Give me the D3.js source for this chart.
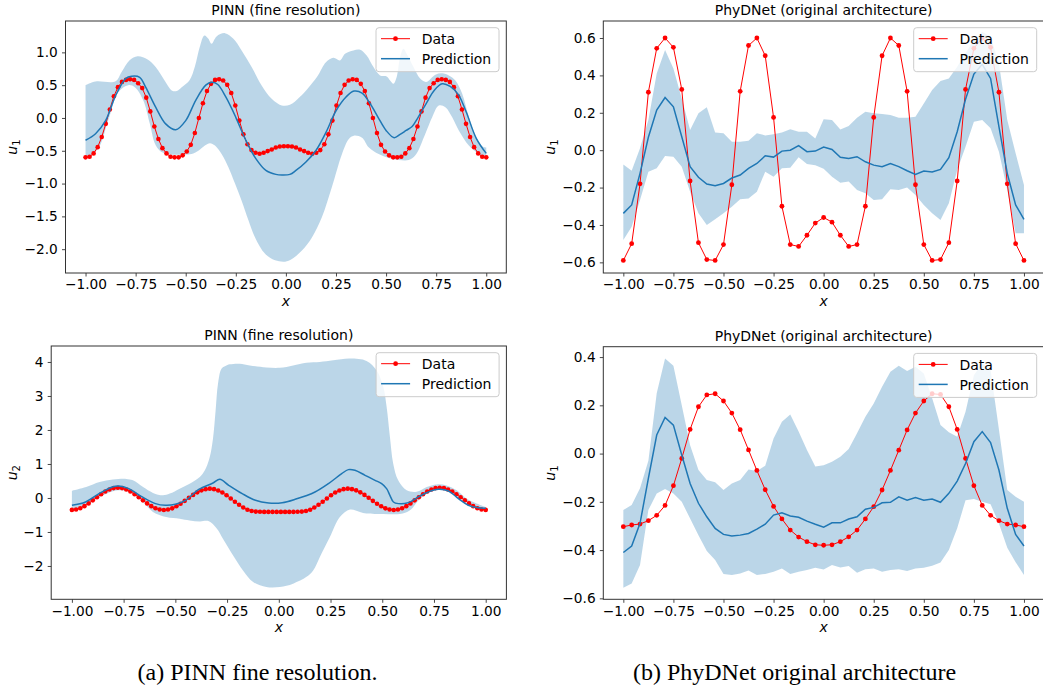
<!DOCTYPE html>
<html>
<head>
<meta charset="utf-8">
<script src="https://cdn.jsdelivr.net/npm/d3@7"></script>
<style>
  body { margin: 0; background: #fff; }
  svg { display: block; font-family: "DejaVu Sans", sans-serif; }
</style>
</head>
<body>
<svg id="fig" width="1043" height="690"></svg>
<script>
// ---------- shared axis values ----------
const xTicks = [-1, -0.75, -0.5, -0.25, 0, 0.25, 0.5, 0.75, 1];
const xFine = d3.range(100).map(i => -1 + 2 * i / 99);   // 100-point grid
const xCoarse = d3.range(49).map(i => -1 + 2 * i / 48);  // 49-point grid

// ---------- (a) PINN, u1 ----------
const pinnU1Data = [
  -0.60, -0.59, -0.54, -0.445, -0.29, -0.09, 0.13, 0.33, 0.47, 0.55,
  0.58, 0.59, 0.58, 0.53, 0.455, 0.31, 0.10, -0.13, -0.32, -0.46,
  -0.54, -0.59, -0.60, -0.60, -0.57, -0.51, -0.41, -0.23, 0.00, 0.225,
  0.41, 0.52, 0.58, 0.59, 0.57, 0.505, 0.38, 0.19, -0.04, -0.25,
  -0.40, -0.49, -0.53, -0.545, -0.53, -0.505, -0.48, -0.45, -0.435, -0.43,
  -0.43, -0.435, -0.45, -0.48, -0.505, -0.53, -0.545, -0.53, -0.49, -0.40,
  -0.25, -0.04, 0.19, 0.38, 0.505, 0.57, 0.59, 0.58, 0.52, 0.41,
  0.225, 0.00, -0.23, -0.41, -0.51, -0.57, -0.60, -0.60, -0.59, -0.54,
  -0.46, -0.32, -0.13, 0.10, 0.31, 0.455, 0.53, 0.58, 0.59, 0.58,
  0.55, 0.47, 0.33, 0.13, -0.09, -0.29, -0.445, -0.54, -0.59, -0.60
];
const pinnU1PredX = [-1, -0.95, -0.9, -0.85, -0.8, -0.77, -0.73, -0.7, -0.65, -0.6, -0.55, -0.5,
  -0.45, -0.4, -0.37, -0.34, -0.3, -0.25, -0.2, -0.15, -0.1, -0.05, -0.02, 0.02, 0.05, 0.1,
  0.15, 0.2, 0.25, 0.3, 0.34, 0.38, 0.42, 0.46, 0.5, 0.54, 0.57, 0.6, 0.63, 0.66, 0.7,
  0.74, 0.78, 0.82, 0.86, 0.9, 0.95, 1.0];
const pinnU1PredY = [-0.34, -0.24, -0.04, 0.34, 0.60, 0.635, 0.62, 0.47, 0.165, -0.09, -0.18, -0.04,
  0.27, 0.50, 0.545, 0.51, 0.32, 0.01, -0.34, -0.62, -0.80, -0.86, -0.87, -0.86, -0.80, -0.67,
  -0.495, -0.22, 0.11, 0.32, 0.41, 0.38, 0.22, 0.01, -0.19, -0.30, -0.25, -0.19, -0.13, 0.01, 0.22,
  0.42, 0.52, 0.48, 0.36, 0.09, -0.31, -0.54];
const pinnU1UpX = [-1, -0.95, -0.85, -0.82, -0.78, -0.74, -0.69, -0.65, -0.6, -0.57, -0.545, -0.52,
  -0.48, -0.455, -0.43, -0.407, -0.387, -0.371, -0.346, -0.304, -0.262, -0.221, -0.171, -0.121,
  -0.071, -0.021, 0.02, 0.069, 0.154, 0.2, 0.237, 0.27, 0.295, 0.337, 0.37, 0.403, 0.437, 0.47,
  0.503, 0.52, 0.537, 0.553, 0.57, 0.587, 0.603, 0.637, 0.67, 0.7, 0.746, 0.78, 0.813, 0.846,
  0.88, 0.913, 0.946, 0.98, 1.0];
const pinnU1UpY = [0.50, 0.555, 0.56, 0.70, 0.88, 0.94, 0.89, 0.775, 0.545, 0.42, 0.41, 0.47,
  0.58, 0.775, 1.08, 1.258, 1.207, 1.131, 1.243, 1.293, 1.207, 1.029, 0.775, 0.495,
  0.292, 0.191, 0.20, 0.318, 0.622, 0.85, 0.917, 0.877, 0.978, 1.029, 1.04, 0.953, 0.775, 0.648,
  0.633, 0.572, 0.521, 0.623, 0.928, 1.055, 0.978, 0.775, 0.60, 0.55, 0.66, 0.68, 0.648, 0.572,
  0.369, 0.013, -0.267, -0.43, -0.45];
const pinnU1LoX = [-1, -0.937, -0.887, -0.837, -0.787, -0.754, -0.712, -0.679, -0.654, -0.629,
  -0.604, -0.554, -0.504, -0.471, -0.437, -0.404, -0.379, -0.354, -0.321, -0.287, -0.254, -0.221,
  -0.187, -0.154, -0.104, -0.054, -0.004, 0.03, 0.08, 0.13, 0.18, 0.23, 0.28, 0.314, 0.339, 0.38,
  0.413, 0.463, 0.513, 0.563, 0.613, 0.646, 0.696, 0.73, 0.763, 0.796, 0.83, 0.863, 0.913, 0.963, 1.0];
const pinnU1LoY = [-0.62, -0.47, -0.04, 0.39, 0.50, 0.47, 0.27, -0.09, -0.39, -0.50,
  -0.54, -0.56, -0.56, -0.55, -0.50, -0.42, -0.385, -0.42, -0.55, -0.75, -1.0, -1.26,
  -1.56, -1.82, -2.07, -2.17, -2.19, -2.15, -2.02, -1.82, -1.51, -1.05, -0.55, -0.32, -0.27, -0.30,
  -0.445, -0.55, -0.61, -0.64, -0.64, -0.57, -0.24, 0.01, 0.19, 0.165, 0.01, -0.19, -0.42, -0.55, -0.61];

// ---------- (a) PINN, u2 ----------
const pinnU2Data = [
  -0.35, -0.34, -0.30, -0.24, -0.16, -0.07, 0.02, 0.11, 0.19, 0.25,
  0.29, 0.30, 0.29, 0.25, 0.19, 0.11, 0.02, -0.07, -0.16, -0.24,
  -0.30, -0.34, -0.355, -0.34, -0.305, -0.245, -0.17, -0.085, 0.005, 0.09,
  0.165, 0.225, 0.26, 0.275, 0.26, 0.22, 0.16, 0.08, -0.015, -0.11,
  -0.20, -0.28, -0.345, -0.385, -0.40, -0.405, -0.41, -0.41, -0.41, -0.41,
  -0.41, -0.41, -0.41, -0.41, -0.405, -0.40, -0.385, -0.345, -0.28, -0.20,
  -0.11, -0.015, 0.08, 0.16, 0.22, 0.26, 0.275, 0.26, 0.225, 0.165,
  0.09, 0.005, -0.085, -0.17, -0.245, -0.305, -0.34, -0.355, -0.34, -0.30,
  -0.24, -0.16, -0.07, 0.02, 0.11, 0.19, 0.25, 0.29, 0.30, 0.29,
  0.25, 0.19, 0.11, 0.02, -0.07, -0.16, -0.24, -0.30, -0.34, -0.35
];
const pinnU2PredX = [-1, -0.934, -0.869, -0.805, -0.773, -0.725, -0.66, -0.596, -0.548, -0.5, -0.451,
  -0.387, -0.318, -0.285, -0.242, -0.177, -0.113, -0.049, 0.016, 0.079, 0.175, 0.24, 0.304,
  0.336, 0.368, 0.417, 0.465, 0.497, 0.521, 0.537, 0.554, 0.578, 0.626, 0.674, 0.723, 0.771,
  0.82, 0.868, 0.916, 0.964, 1.0];
const pinnU2PredY = [-0.215, -0.117, 0.128, 0.324, 0.353, 0.275, 0.03, -0.166, -0.215, -0.186, -0.068,
  0.25, 0.44, 0.55, 0.373, 0.128, -0.068, -0.147, -0.14, -0.04, 0.177, 0.422, 0.716,
  0.834, 0.814, 0.667, 0.52, 0.422, 0.275, 0.079, -0.117, -0.166, -0.137, 0.03, 0.177, 0.255,
  0.206, -0.019, -0.215, -0.29, -0.30];
const pinnU2UpX = [-1, -0.931, -0.866, -0.802, -0.737, -0.705, -0.656, -0.608, -0.56, -0.527, -0.479,
  -0.431, -0.382, -0.358, -0.334, -0.318, -0.305, -0.294, -0.277, -0.258, -0.237, -0.189, -0.14,
  -0.06, 0.005, 0.069, 0.134, 0.198, 0.263, 0.344, 0.424, 0.473, 0.505, 0.521, 0.537, 0.553,
  0.577, 0.618, 0.666, 0.715, 0.763, 0.811, 0.86, 0.908, 1.0];
const pinnU2UpY = [0.21, 0.32, 0.47, 0.54, 0.56, 0.52, 0.32, 0.15, 0.08, 0.13, 0.275,
  0.42, 0.62, 0.81, 1.2, 1.75, 2.6, 3.35, 3.8, 3.88, 3.93, 3.95, 3.90,
  3.84, 3.83, 3.90, 3.98, 4.0, 4.05, 4.10, 4.03, 3.75, 3.27, 2.68, 1.8, 1.01,
  0.52, 0.225, 0.18, 0.32, 0.40, 0.37, 0.225, -0.02, -0.265];
const pinnU2LoX = [-1, -0.931, -0.866, -0.802, -0.77, -0.737, -0.705, -0.656, -0.608, -0.544, -0.479,
  -0.431, -0.382, -0.34, -0.3, -0.27, -0.22, -0.173, -0.124, -0.06, 0.005, 0.069, 0.134, 0.166,
  0.198, 0.247, 0.295, 0.344, 0.392, 0.424, 0.505, 0.585, 0.634, 0.682, 0.731, 0.779, 0.827,
  0.876, 0.94, 1.0];
const pinnU2LoY = [-0.38, -0.22, 0.03, 0.20, 0.23, 0.20, 0.12, -0.12, -0.41, -0.56, -0.61,
  -0.66, -0.69, -0.68, -0.90, -1.2, -1.7, -2.13, -2.47, -2.62, -2.62, -2.52, -2.32, -2.13,
  -1.74, -1.15, -0.56, -0.34, -0.41, -0.46, -0.47, -0.47, -0.36, -0.02, 0.20, 0.25, 0.16,
  0.0, -0.22, -0.38];

// ---------- (b) PhyDNet, first row ----------
const phyTopData = [-0.59, -0.50, -0.18, 0.31, 0.545, 0.60, 0.55, 0.325, -0.165, -0.495,
  -0.585, -0.59, -0.505, -0.185, 0.315, 0.56, 0.60, 0.505, 0.175, -0.30,
  -0.505, -0.515, -0.455, -0.39, -0.36, -0.385, -0.455, -0.515, -0.505, -0.30,
  0.175, 0.505, 0.60, 0.56, 0.315, -0.185, -0.505, -0.59, -0.585, -0.495,
  -0.165, 0.325, 0.545, 0.60, 0.55, 0.31, -0.18, -0.50, -0.59];
const phyTopPred = [-0.338, -0.293, -0.124, 0.069, 0.215, 0.282, 0.232, 0.072, -0.088, -0.145,
  -0.181, -0.19, -0.178, -0.149, -0.133, -0.097, -0.071, -0.03, -0.037, -0.005,
  0.0, 0.024, -0.008, -0.005, 0.017, 0.004, -0.038, -0.044, -0.035, -0.062,
  -0.08, -0.088, -0.071, -0.088, -0.11, -0.13, -0.112, -0.117, -0.103, -0.04,
  0.099, 0.272, 0.407, 0.459, 0.384, 0.126, -0.124, -0.293, -0.37];
const phyTopUpper = [-0.076, -0.11, 0.01, 0.161, 0.41, 0.536, 0.437, 0.277, 0.108, 0.197,
  0.229, 0.094, 0.09, 0.045, 0.045, 0.05, 0.09, 0.079, 0.085, 0.094,
  0.112, 0.099, 0.099, 0.062, 0.165, 0.161, 0.111, 0.129, 0.174, 0.206,
  0.197, 0.193, 0.188, 0.174, 0.174, 0.179, 0.25, 0.322, 0.37, 0.384,
  0.446, 0.518, 0.589, 0.634, 0.607, 0.464, 0.161, -0.017, -0.186];
const phyTopLower = [-0.48, -0.41, -0.267, -0.115, -0.097, -0.031, -0.035, -0.088, -0.222, -0.338,
  -0.40, -0.37, -0.338, -0.302, -0.263, -0.258, -0.222, -0.115, -0.142, -0.097,
  -0.094, -0.038, -0.074, -0.08, -0.10, -0.142, -0.174, -0.168, -0.213, -0.231,
  -0.267, -0.263, -0.209, -0.213, -0.199, -0.24, -0.293, -0.338, -0.373, -0.284,
  -0.106, 0.019, 0.152, 0.161, 0.117, -0.008, -0.213, -0.445, -0.445];

// ---------- (b) PhyDNet, second row ----------
const phyBotData = [-0.303, -0.296, -0.292, -0.278, -0.256, -0.215, -0.133, -0.02, 0.10, 0.194,
  0.243, 0.248, 0.218, 0.168, 0.099, 0.015, -0.07, -0.15, -0.219, -0.271,
  -0.317, -0.346, -0.365, -0.378, -0.38, -0.378, -0.365, -0.345, -0.317, -0.271,
  -0.22, -0.151, -0.07, 0.014, 0.098, 0.168, 0.218, 0.248, 0.245, 0.194,
  0.10, -0.02, -0.133, -0.215, -0.256, -0.278, -0.292, -0.296, -0.303];
const phyBotPred = [-0.41, -0.383, -0.289, -0.103, 0.077, 0.15, 0.118, -0.006, -0.124, -0.206,
  -0.262, -0.31, -0.335, -0.342, -0.338, -0.331, -0.313, -0.293, -0.255, -0.245,
  -0.259, -0.264, -0.28, -0.293, -0.305, -0.287, -0.287, -0.271, -0.262, -0.231,
  -0.223, -0.204, -0.202, -0.179, -0.193, -0.182, -0.193, -0.188, -0.202, -0.165,
  -0.114, -0.041, 0.049, 0.091, 0.046, -0.068, -0.227, -0.335, -0.383];
const phyBotUpper = [-0.234, -0.213, -0.144, -0.03, 0.25, 0.394, 0.364, 0.20, 0.035, -0.068,
  -0.11, -0.119, -0.151, -0.124, -0.11, -0.066, -0.072, -0.05, 0.063, 0.132,
  0.162, 0.091, 0.015, -0.054, -0.048, -0.034, -0.013, 0.019, 0.084, 0.153,
  0.208, 0.277, 0.339, 0.364, 0.342, 0.36, 0.332, 0.229, 0.118, 0.088,
  0.07, 0.173, 0.325, 0.374, 0.346, 0.10, -0.151, -0.179, -0.20];
const phyBotLower = [-0.556, -0.538, -0.462, -0.234, -0.165, -0.147, -0.165, -0.20, -0.269, -0.338,
  -0.404, -0.441, -0.499, -0.503, -0.497, -0.485, -0.503, -0.499, -0.49, -0.476,
  -0.499, -0.49, -0.483, -0.473, -0.48, -0.462, -0.472, -0.466, -0.494, -0.479,
  -0.476, -0.49, -0.483, -0.479, -0.487, -0.476, -0.473, -0.465, -0.451, -0.40,
  -0.31, -0.193, -0.188, -0.20, -0.21, -0.29, -0.39, -0.45, -0.503];

// ---------- layout of the four panels ----------
const panels = [
  { left: 65.5, right: 506.3, top: 21, bottom: 273, ydom: [-2.363, 1.478],
    yTicks: [-2, -1.5, -1, -0.5, 0, 0.5, 1], yFmt: ".1f", title: "PINN (fine resolution)", sub: "1",
    ylabOff: 48.5, dataX: xFine, dataY: pinnU1Data, predX: pinnU1PredX, predY: pinnU1PredY,
    upX: pinnU1UpX, upY: pinnU1UpY, loX: pinnU1LoX, loY: pinnU1LoY, smooth: true, r: 2.3 },
  { left: 603.3, right: 1044, top: 21, bottom: 273, ydom: [-0.657, 0.691],
    yTicks: [-0.6, -0.4, -0.2, 0, 0.2, 0.4, 0.6], yFmt: ".1f", title: "PhyDNet (original architecture)", sub: "1",
    ylabOff: 48.5, dataX: xCoarse, dataY: phyTopData, predX: xCoarse, predY: phyTopPred,
    upX: xCoarse, upY: phyTopUpper, loX: xCoarse, loY: phyTopLower, smooth: false, r: 2.4 },
  { left: 51.2, right: 506.4, top: 346, bottom: 599.3, ydom: [-2.98, 4.47],
    yTicks: [-2, -1, 0, 1, 2, 3, 4], yFmt: "d", title: "PINN (fine resolution)", sub: "2",
    ylabOff: 34.5, dataX: xFine, dataY: pinnU2Data, predX: pinnU2PredX, predY: pinnU2PredY,
    upX: pinnU2UpX, upY: pinnU2UpY, loX: pinnU2LoX, loY: pinnU2LoY, smooth: true, r: 2.3 },
  { left: 603.3, right: 1044, top: 346.7, bottom: 599.3, ydom: [-0.604, 0.443],
    yTicks: [-0.6, -0.4, -0.2, 0, 0.2, 0.4], yFmt: ".1f", title: "PhyDNet (original architecture)", sub: "1",
    ylabOff: 48.5, dataX: xCoarse, dataY: phyBotData, predX: xCoarse, predY: phyBotPred,
    upX: xCoarse, upY: phyBotUpper, loX: xCoarse, loY: phyBotLower, smooth: false, r: 2.4 }
];

const BLUE = "#1f77b4", RED = "#ff0000", BAND = "#1f77b4";
const svg = d3.select("#fig");

panels.forEach((p, k) => {
  const x = d3.scaleLinear().domain([-1.1, 1.1]).range([p.left, p.right]);
  const y = d3.scaleLinear().domain(p.ydom).range([p.bottom, p.top]);
  const g = svg.append("g");

  const clipId = "clip" + k;
  svg.append("clipPath").attr("id", clipId).append("rect")
    .attr("x", p.left).attr("y", p.top)
    .attr("width", p.right - p.left).attr("height", p.bottom - p.top);
  const plot = g.append("g").attr("clip-path", `url(#${clipId})`);

  const curve = p.smooth ? d3.curveCatmullRom.alpha(0.5) : d3.curveLinear;
  const line = d3.line().x(d => x(d[0])).y(d => y(d[1])).curve(curve);

  // uncertainty band
  const up = p.upX.map((v, i) => [v, p.upY[i]]);
  const lo = p.loX.map((v, i) => [v, p.loY[i]]).reverse();
  plot.append("path")
    .attr("d", line(up) + "L" + line(lo).slice(1) + "Z")
    .attr("fill", BAND).attr("fill-opacity", 0.3).attr("stroke", "none");

  // data: red line with dot markers
  const dataPts = p.dataX.map((v, i) => [v, p.dataY[i]]);
  plot.append("path")
    .attr("d", d3.line().x(d => x(d[0])).y(d => y(d[1]))(dataPts))
    .attr("fill", "none").attr("stroke", RED).attr("stroke-width", 1);
  plot.selectAll("circle.dot").data(dataPts).join("circle")
    .attr("class", "dot")
    .attr("cx", d => x(d[0])).attr("cy", d => y(d[1])).attr("r", p.r)
    .attr("fill", RED);

  // prediction mean
  const predPts = p.predX.map((v, i) => [v, p.predY[i]]);
  plot.append("path").attr("d", line(predPts))
    .attr("fill", "none").attr("stroke", BLUE).attr("stroke-width", 1.5);

  // axes
  const fmtX = d3.format(".2f");
  const xAxis = g.append("g").attr("transform", `translate(0,${p.bottom})`)
    .call(d3.axisBottom(x).tickValues(xTicks).tickFormat(fmtX).tickSize(3.5).tickPadding(3.2));
  const yAxis = g.append("g").attr("transform", `translate(${p.left},0)`)
    .call(d3.axisLeft(y).tickValues(p.yTicks).tickFormat(d3.format(p.yFmt)).tickSize(3.5).tickPadding(4.2));
  [xAxis, yAxis].forEach(a => {
    a.select(".domain").remove();
    a.selectAll("line").attr("stroke", "#333").attr("stroke-width", 0.9);
    a.selectAll("text").attr("fill", "#000").style("font-size", "13.7px")
      .style("font-family", '"DejaVu Sans", sans-serif');
  });

  // frame
  g.append("rect").attr("x", p.left).attr("y", p.top)
    .attr("width", p.right - p.left).attr("height", p.bottom - p.top)
    .attr("fill", "none").attr("stroke", "#333").attr("stroke-width", 1);

  const cx = (p.left + p.right) / 2, cy = (p.top + p.bottom) / 2;

  // title
  g.append("text").attr("x", cx).attr("y", p.top - 5.8)
    .attr("text-anchor", "middle").style("font-size", "14px").attr("fill", "#000")
    .text(p.title);

  // axis labels
  g.append("text").attr("x", cx).attr("y", p.bottom + 33)
    .attr("text-anchor", "middle").style("font-size", "14px").style("font-style", "italic")
    .attr("fill", "#000").text("x");
  const yl = g.append("text")
    .attr("transform", `translate(${p.left - p.ylabOff},${cy}) rotate(-90)`)
    .attr("text-anchor", "middle").style("font-size", "14px").attr("fill", "#000");
  yl.append("tspan").style("font-style", "italic").text("u");
  yl.append("tspan").attr("dy", 3).style("font-size", "10px").text(p.sub);

  // legend
  const lw = 123, lh = 44;
  const lx = Math.min(p.right, 1044) - 7.3 - lw, ly = p.top + 6.7;
  const leg = g.append("g").attr("transform", `translate(${lx},${ly})`);
  leg.append("rect").attr("width", lw).attr("height", lh).attr("rx", 3)
    .attr("fill", "#fff").attr("fill-opacity", 0.8).attr("stroke", "#ccc").attr("stroke-width", 1);
  leg.append("line").attr("x1", 5).attr("x2", 34).attr("y1", 11).attr("y2", 11)
    .attr("stroke", RED).attr("stroke-width", 1);
  leg.append("circle").attr("cx", 19.5).attr("cy", 11).attr("r", 2.4).attr("fill", RED);
  leg.append("text").attr("x", 45.7).attr("y", 16.2).style("font-size", "14px").attr("fill", "#000").text("Data");
  leg.append("line").attr("x1", 5).attr("x2", 34).attr("y1", 31).attr("y2", 31)
    .attr("stroke", BLUE).attr("stroke-width", 1.5);
  leg.append("text").attr("x", 45.7).attr("y", 36.2).style("font-size", "14px").attr("fill", "#000").text("Prediction");
});

// sub-figure captions
const captions = [
  { x: 257.5, text: "(a) PINN fine resolution." },
  { x: 794.5, text: "(b) PhyDNet original architecture" }
];
svg.selectAll("text.caption").data(captions).join("text")
  .attr("class", "caption")
  .attr("x", d => d.x).attr("y", 680)
  .attr("text-anchor", "middle")
  .style("font-family", '"Liberation Serif", "Times New Roman", serif')
  .style("font-size", "24px").attr("fill", "#000")
  .text(d => d.text);
</script>
</body>
</html>
